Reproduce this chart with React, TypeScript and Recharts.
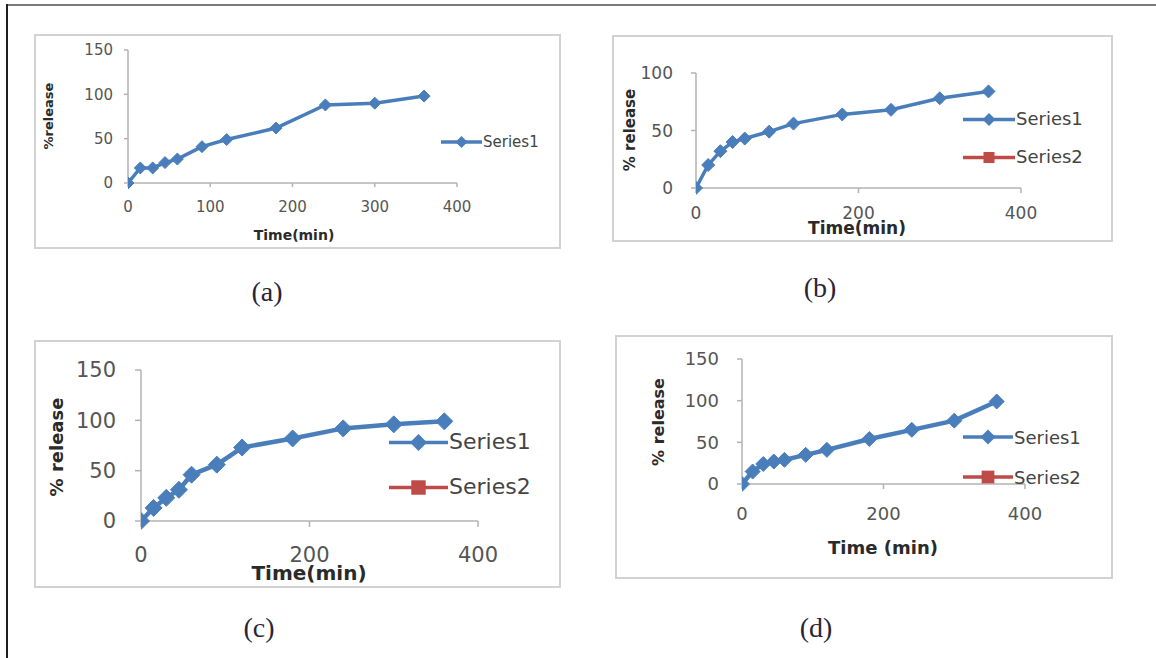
import React from 'react';
import { LineChart, Line, XAxis, YAxis } from 'recharts';

// ---- data ----
const timeMin = [0, 15, 30, 45, 60, 90, 120, 180, 240, 300, 360];
const releaseA = [0, 17, 17, 23, 27, 41, 49, 62, 88, 90, 98];
const releaseB = [0, 20, 32, 40, 43, 49, 56, 64, 68, 78, 84];
const releaseC = [0, 13, 23, 31, 46, 56, 73, 82, 92, 96, 99];
const releaseD = [0, 15, 24, 27, 29, 35, 41, 54, 65, 76, 99];
const seriesNames = ['Series1', 'Series2'];
const xTicksA = [0, 100, 200, 300, 400];
const xTicksBCD = [0, 200, 400];
const yTicks150 = [0, 50, 100, 150];
const yTicks100 = [0, 50, 100];
const captions = ['(a)', '(b)', '(c)', '(d)'];
const yTitles = ['%release', '% release', '% release', '% release'];
const xTitles = ['Time(min)', 'Time(min)', 'Time(min)', 'Time (min)'];

const BLUE = '#4a7ebb';
const RED = '#be4b48';
const AXIS = '#b3b3b3';
const TICK = '#555555';
const TITLE = '#2a2a2a';

const toRows = (vals: number[]) => timeMin.map((t, i) => ({ t, s1: vals[i] }));

type PanelCfg = {
  L: number; T: number; R: number; B: number;
  x0: number; x400: number; yTop: number; y0: number;
  yMax: number; yTicks: number[]; xTicks: number[];
  tickFont: number; tickSize: number; yMargin: number; xMargin: number;
  values: number[]; stroke: number; dot: number;
  yTitle: string; yTitleX: number; yTitleY: number; yTitleFont: number;
  xTitle: string; xTitleX: number; xTitleY: number; xTitleFont: number;
  legendX: number; legendLine: number; legendYs: number[]; legendFont: number; legendNames: string[];
  caption: string; capX: number; capY: number;
};

const diamond = (size: number, color: string) => (props: any) => {
  const { cx, cy, index } = props;
  if (cx == null || cy == null) return <g key={`d-${index}`} />;
  const h = size / 2;
  return (
    <path
      key={`d-${index}`}
      d={`M${cx},${cy - h}L${cx + h},${cy}L${cx},${cy + h}L${cx - h},${cy}Z`}
      fill={color}
      stroke={color}
      strokeWidth={1}
    />
  );
};

const LegendIcon = ({ idx, w, size }: { idx: number; w: number; size: number }) => {
  const color = idx === 0 ? BLUE : RED;
  const h = size / 2;
  const c = w / 2;
  const m = size / 2 + 3;
  return (
    <svg width={w} height={size + 4} style={{ display: 'block' }}>
      <line x1={0} y1={m - 1} x2={w} y2={m - 1} stroke={color} strokeWidth={3.5} />
      {idx === 0 ? (
        <path d={`M${c},${m - 1 - h}L${c + h},${m - 1}L${c},${m - 1 + h}L${c - h},${m - 1}Z`} fill={color} />
      ) : (
        <rect x={c - h * 0.85} y={m - 1 - h * 0.85} width={h * 1.7} height={h * 1.7} fill={color} />
      )}
    </svg>
  );
};

const Panel = ({ c }: { c: PanelCfg }) => {
  const W = c.R - c.L;
  const H = c.B - c.T;
  const rows = toRows(c.values);
  const tickStyle = { fontSize: c.tickFont, fill: TICK, fontFamily: 'DejaVu Sans' };
  return (
    <>
      <div
        style={{
          position: 'absolute', left: c.L, top: c.T, width: W, height: H,
          border: '2px solid #d2d2d2', boxSizing: 'border-box', background: '#fff',
        }}
      />
      <div style={{ position: 'absolute', left: c.L, top: c.T }}>
        <LineChart
          width={W}
          height={H}
          data={rows}
          margin={{ top: c.yTop - c.T, right: c.R - c.x400, bottom: 0, left: 0 }}
        >
          <XAxis
            dataKey="t"
            type="number"
            domain={[0, 400]}
            ticks={c.xTicks}
            allowDataOverflow
            height={c.B - c.y0}
            stroke={AXIS}
            strokeWidth={1.5}
            tickSize={c.tickSize}
            tickMargin={c.xMargin}
            tick={tickStyle}
            interval={0}
          />
          <YAxis
            type="number"
            domain={[0, c.yMax]}
            ticks={c.yTicks}
            width={c.x0 - c.L}
            stroke={AXIS}
            strokeWidth={1.5}
            tickSize={c.tickSize}
            tickMargin={c.yMargin}
            tick={tickStyle}
            interval={0}
          />
          <Line
            type="linear"
            dataKey="s1"
            name={c.legendNames[0]}
            stroke={BLUE}
            strokeWidth={c.stroke}
            dot={diamond(c.dot, BLUE)}
            activeDot={false}
            isAnimationActive={false}
          />
        </LineChart>
      </div>
      <div
        style={{
          position: 'absolute', left: c.yTitleX, top: c.yTitleY,
          transform: 'translate(-50%, -50%) rotate(-90deg)', whiteSpace: 'nowrap',
          fontFamily: 'DejaVu Sans', fontWeight: 'bold', fontSize: c.yTitleFont, color: TITLE, lineHeight: 1,
        }}
      >
        {c.yTitle}
      </div>
      <div
        style={{
          position: 'absolute', left: c.xTitleX, top: c.xTitleY,
          transform: 'translate(-50%, -50%)', whiteSpace: 'nowrap',
          fontFamily: 'DejaVu Sans', fontWeight: 'bold', fontSize: c.xTitleFont, color: TITLE, lineHeight: 1,
        }}
      >
        {c.xTitle}
      </div>
      {c.legendNames.map((n, i) => (
        <div
          key={n}
          style={{
            position: 'absolute', left: c.legendX, top: c.legendYs[i],
            transform: 'translateY(-50%)', display: 'flex', alignItems: 'center',
            fontFamily: 'DejaVu Sans', fontSize: c.legendFont, color: '#444', whiteSpace: 'nowrap', lineHeight: 1,
          }}
        >
          <LegendIcon idx={i} w={c.legendLine} size={c.dot} />
          <span style={{ marginLeft: 1 }}>{n}</span>
        </div>
      ))}
      <div
        style={{
          position: 'absolute', left: c.capX, top: c.capY,
          transform: 'translate(-50%, -50%)', whiteSpace: 'nowrap',
          fontFamily: 'Liberation Serif', fontSize: 28, color: '#2a2438', lineHeight: 1,
        }}
      >
        {c.caption}
      </div>
    </>
  );
};

const panels: PanelCfg[] = [
  {
    L: 34, T: 34, R: 561, B: 249, x0: 128, x400: 457, yTop: 50, y0: 183,
    yMax: 150, yTicks: yTicks150, xTicks: xTicksA, tickFont: 15, tickSize: 4, yMargin: 11, xMargin: 14,
    values: releaseA, stroke: 3.5, dot: 12,
    yTitle: yTitles[0], yTitleX: 48, yTitleY: 116, yTitleFont: 13,
    xTitle: xTitles[0], xTitleX: 294, xTitleY: 235, xTitleFont: 14,
    legendX: 441, legendLine: 41, legendYs: [142], legendFont: 15, legendNames: seriesNames.slice(0, 1),
    caption: captions[0], capX: 267, capY: 292,
  },
  {
    L: 612, T: 35, R: 1113, B: 242, x0: 696, x400: 1021, yTop: 73, y0: 188,
    yMax: 100, yTicks: yTicks100, xTicks: xTicksBCD, tickFont: 17, tickSize: 5, yMargin: 18, xMargin: 14,
    values: releaseB, stroke: 3.5, dot: 13,
    yTitle: yTitles[1], yTitleX: 630, yTitleY: 130, yTitleFont: 15,
    xTitle: xTitles[1], xTitleX: 857, xTitleY: 228, xTitleFont: 17,
    legendX: 963, legendLine: 52, legendYs: [119, 157], legendFont: 18, legendNames: seriesNames,
    caption: captions[1], capX: 820, capY: 288,
  },
  {
    L: 34, T: 340, R: 561, B: 588, x0: 141, x400: 478, yTop: 370, y0: 521,
    yMax: 150, yTicks: yTicks150, xTicks: xTicksBCD, tickFont: 21, tickSize: 6, yMargin: 19, xMargin: 20,
    values: releaseC, stroke: 4.5, dot: 17,
    yTitle: yTitles[2], yTitleX: 57, yTitleY: 447, yTitleFont: 18,
    xTitle: xTitles[2], xTitleX: 309, xTitleY: 573, xTitleFont: 20,
    legendX: 389, legendLine: 59, legendYs: [442, 487], legendFont: 22, legendNames: seriesNames,
    caption: captions[2], capX: 259, capY: 628,
  },
  {
    L: 615, T: 335, R: 1113, B: 579, x0: 742, x400: 1025, yTop: 359, y0: 484,
    yMax: 150, yTicks: yTicks150, xTicks: xTicksBCD, tickFont: 18, tickSize: 5, yMargin: 18, xMargin: 18,
    values: releaseD, stroke: 4.5, dot: 15,
    yTitle: yTitles[3], yTitleX: 659, yTitleY: 422, yTitleFont: 16,
    xTitle: xTitles[3], xTitleX: 883, xTitleY: 548, xTitleFont: 18,
    legendX: 963, legendLine: 50, legendYs: [437, 477], legendFont: 18, legendNames: seriesNames,
    caption: captions[3], capX: 816, capY: 628,
  },
];

export default function App() {
  return (
    <div style={{ position: 'absolute', left: 0, top: 0, width: 1156, height: 658, background: '#fff', overflow: 'hidden' }}>
      <div style={{ position: 'absolute', left: 7, top: 4, width: 1149, height: 2, background: '#7a7a7a' }} />
      <div style={{ position: 'absolute', left: 6, top: 4, width: 2, height: 654, background: '#1e1e1e' }} />
      {panels.map((p, i) => (
        <Panel key={i} c={p} />
      ))}
    </div>
  );
}
